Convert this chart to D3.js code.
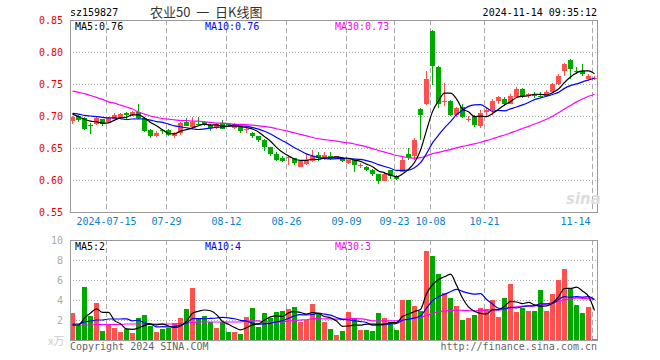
<!DOCTYPE html>
<html>
<head>
<meta charset="utf-8">
<script src="https://cdn.jsdelivr.net/npm/d3@7"></script>
<style>
  body { margin: 0; background: #fff; }
  text { font-family: "DejaVu Sans Mono", monospace; font-size: 10px; }
</style>
</head>
<body>
<div id="chart"></div>
<script>
// trading days shown on the chart (2024-07-05 .. 2024-11-14)
var dates = ["07-05","07-08","07-09","07-10","07-11","07-12","07-15","07-16","07-17","07-18","07-19",
  "07-22","07-23","07-24","07-25","07-26","07-29","07-30","07-31","08-01","08-02",
  "08-05","08-06","08-07","08-08","08-09","08-12","08-13","08-14","08-15","08-16",
  "08-19","08-20","08-21","08-22","08-23","08-26","08-27","08-28","08-29","08-30",
  "09-02","09-03","09-04","09-05","09-06","09-09","09-10","09-11","09-12","09-13",
  "09-18","09-19","09-20","09-23","09-24","09-25","09-26","09-27","09-30",
  "10-08","10-09","10-10","10-11","10-14","10-15","10-16","10-17","10-18","10-21",
  "10-22","10-23","10-24","10-25","10-28","10-29","10-30","10-31","11-01",
  "11-04","11-05","11-06","11-07","11-08","11-11","11-12","11-13","11-14"];

var opens = [0.692,0.700,0.697,0.686,0.688,0.695,0.691,0.696,0.697,0.705,0.701,
  0.707,0.697,0.678,0.668,0.678,0.678,0.668,0.674,0.690,0.683,
  0.688,0.690,0.686,0.681,0.689,0.687,0.681,0.683,0.679,0.674,
  0.668,0.663,0.651,0.641,0.634,0.634,0.634,0.621,0.625,0.629,
  0.639,0.633,0.637,0.634,0.635,0.626,0.631,0.623,0.621,0.616,
  0.609,0.599,0.615,0.607,0.613,0.641,0.638,0.711,0.718,
  0.833,0.777,0.722,0.724,0.701,0.714,0.693,0.699,0.684,0.707,
  0.710,0.724,0.727,0.719,0.730,0.742,0.732,0.733,0.731,
  0.732,0.738,0.750,0.770,0.788,0.770,0.770,0.758,0.758];
var highs = [0.700,0.701,0.698,0.689,0.698,0.696,0.698,0.704,0.705,0.706,0.708,
  0.718,0.698,0.679,0.677,0.680,0.679,0.675,0.690,0.697,0.699,
  0.699,0.692,0.687,0.689,0.693,0.689,0.689,0.684,0.684,0.675,
  0.669,0.664,0.652,0.644,0.637,0.637,0.635,0.631,0.640,0.647,
  0.643,0.643,0.643,0.638,0.636,0.632,0.632,0.626,0.622,0.617,
  0.610,0.613,0.616,0.608,0.637,0.650,0.665,0.712,0.771,
  0.835,0.778,0.751,0.725,0.714,0.718,0.700,0.701,0.710,0.712,
  0.726,0.732,0.729,0.734,0.745,0.743,0.736,0.737,0.737,
  0.740,0.752,0.765,0.783,0.789,0.777,0.782,0.765,0.762];
var lows = [0.687,0.691,0.678,0.672,0.686,0.685,0.689,0.695,0.696,0.694,0.700,
  0.696,0.675,0.666,0.667,0.672,0.668,0.665,0.671,0.684,0.682,
  0.684,0.684,0.676,0.679,0.679,0.684,0.680,0.674,0.673,0.665,
  0.660,0.645,0.637,0.629,0.628,0.624,0.624,0.620,0.624,0.628,
  0.630,0.632,0.632,0.633,0.628,0.625,0.613,0.618,0.614,0.607,
  0.594,0.598,0.601,0.600,0.612,0.632,0.632,0.663,0.717,
  0.749,0.712,0.716,0.700,0.699,0.697,0.690,0.683,0.681,0.700,
  0.701,0.719,0.716,0.718,0.729,0.728,0.728,0.728,0.728,
  0.731,0.736,0.749,0.762,0.758,0.765,0.763,0.754,0.756];
var closes = [0.699,0.694,0.680,0.685,0.697,0.688,0.697,0.701,0.703,0.701,0.707,
  0.697,0.677,0.668,0.674,0.676,0.670,0.673,0.689,0.685,0.690,
  0.687,0.686,0.681,0.687,0.680,0.686,0.688,0.676,0.680,0.668,
  0.663,0.652,0.640,0.632,0.629,0.636,0.627,0.630,0.632,0.637,
  0.634,0.639,0.633,0.637,0.630,0.631,0.624,0.624,0.615,0.610,
  0.598,0.609,0.606,0.602,0.632,0.634,0.663,0.701,0.758,
  0.778,0.718,0.724,0.701,0.713,0.699,0.696,0.686,0.705,0.709,
  0.723,0.730,0.719,0.731,0.742,0.732,0.734,0.731,0.730,
  0.737,0.750,0.763,0.782,0.773,0.769,0.765,0.763,0.759];
// volume, 万手
var volumes = [2.73,1.43,5.33,2.37,3.73,0.93,1.47,1.17,0.83,1.13,0.73,
  2.17,2.47,1.43,0.77,1.13,1.20,1.73,2.17,3.07,5.17,
  2.23,2.37,1.77,1.17,1.77,0.77,0.77,0.57,2.27,3.17,
  1.27,2.67,2.17,2.77,2.87,3.07,3.27,1.77,2.00,3.63,
  2.60,1.77,1.07,0.47,0.93,2.83,2.13,1.03,1.03,0.93,
  2.73,2.17,1.83,1.03,3.97,3.97,3.43,2.87,8.93,
  8.43,6.63,4.73,4.23,3.43,1.97,2.17,2.53,3.23,3.13,
  4.03,2.27,4.23,5.63,2.83,3.23,2.93,2.93,5.03,
  2.93,4.63,6.03,7.13,5.07,3.53,2.73,3.33,0.13];

// moving-average values at the left edge, where the window reaches before the first day shown
var ma5Start = [0.703,0.699,0.695,0.692];
var ma10Start = [0.704,0.703,0.701,0.700,0.699,0.698,0.697,0.697,0.696];
var ma30Start = [0.739,0.737,0.735,0.732,0.729,0.726,0.722,0.720,0.717,0.714,
  0.711,0.706,0.703,0.700,0.698,0.696,0.695,0.694,0.693,0.693,
  0.692,0.692,0.691,0.690,0.689,0.689,0.688,0.687,0.687];
var volMa5Start = [1.5,1.5,2.2,2.7];
var volMa10Start = [1.6,1.6,1.8,1.9,2.0,2.0,2.1,2.1,2.1];
var volMa30Start = [1.45,1.45,1.5,1.5,1.55,1.55,1.55,1.55,1.55,1.6,
  1.6,1.6,1.6,1.6,1.6,1.6,1.6,1.6,1.65,1.7,
  1.75,1.8,1.8,1.8,1.8,1.8,1.8,1.8,1.8];

var priceTicks = [0.55,0.60,0.65,0.70,0.75,0.80,0.85];
var volTicks = [2,4,6,8,10];
var dateTicks = ["07-15","07-29","08-12","08-26","09-09","09-23","10-08","10-21","11-14"];
var dateTickLabels = ["2024-07-15","07-29","08-12","08-26","09-09","09-23","10-08","10-21","11-14"];
var priceMaLabels = ["MA5:0.76","MA10:0.76","MA30:0.73"];
var volMaLabels = ["MA5:2","MA10:4","MA30:3"];
var maColors = ["#000","#00f","#f0f"];

var RED = "#ff5050", GREEN = "#00a800";

function movingAvg(values, n, start) {
  return values.map(function(v, i) {
    if (i < n - 1) return start[i];
    return d3.mean(values.slice(i - n + 1, i + 1));
  });
}

var W = 660, H = 360;
var left = 70, right = 597;

var svg = d3.select("#chart").append("svg")
  .attr("width", W).attr("height", H);

var x = d3.scaleBand()
  .domain(d3.range(dates.length))
  .range([69, 69 + 6 * dates.length]);
var y = d3.scaleLinear().domain([0.55, 0.85]).range([212, 20]);
var yv = d3.scaleLinear().domain([0, 10]).range([340, 240]);

var data = dates.map(function(d, i) {
  return {date: d, o: opens[i], h: highs[i], l: lows[i], c: closes[i], v: volumes[i]};
});

// --- titles
svg.append("text").attr("x", 70).attr("y", 16).text("sz159827");
svg.append("text").attr("x", 150).attr("y", 17)
  .style("font-family", "'Noto Sans CJK SC', sans-serif").style("font-size", "13px")
  .style("fill", "#333").text("农业50\u00a0\u00a0一\u00a0\u00a0日K线图");
svg.append("text").attr("x", right).attr("y", 16).attr("text-anchor", "end")
  .text("2024-11-14 09:35:12");

// --- grid lines
function gridX(d) { return x(dates.indexOf(d)) + 1.5; }

var grid = svg.append("g").attr("shape-rendering", "crispEdges");
grid.selectAll(".vgrid1").data(dateTicks).enter().append("line")
  .attr("x1", gridX).attr("x2", gridX).attr("y1", 20).attr("y2", 212)
  .style("stroke", "#aaa").style("stroke-dasharray", "5,3");
grid.selectAll(".vgrid2").data(dateTicks).enter().append("line")
  .attr("x1", gridX).attr("x2", gridX).attr("y1", 240).attr("y2", 340)
  .style("stroke", "#aaa").style("stroke-dasharray", "5,3");
grid.selectAll(".hgrid1").data(priceTicks.slice(1, -1)).enter().append("line")
  .attr("x1", left).attr("x2", right)
  .attr("y1", function(d) { return y(d) + 0.5; }).attr("y2", function(d) { return y(d) + 0.5; })
  .style("stroke", "#aaa").style("stroke-dasharray", "1,2");
grid.selectAll(".hgrid2").data(volTicks.slice(0, -1)).enter().append("line")
  .attr("x1", left).attr("x2", right)
  .attr("y1", function(d) { return yv(d) + 0.5; }).attr("y2", function(d) { return yv(d) + 0.5; })
  .style("stroke", "#aaa").style("stroke-dasharray", "1,2");

// --- axes
var yAxis = svg.append("g").attr("transform", "translate(" + (left - 4) + ",0)")
  .call(d3.axisLeft(y).tickValues(priceTicks).tickSize(0).tickFormat(d3.format(".2f")));
yAxis.select(".domain").remove();
yAxis.selectAll("text").style("fill", "#e00").attr("dy", "0.35em");

var vAxis = svg.append("g").attr("transform", "translate(" + (left - 4) + ",0)")
  .call(d3.axisLeft(yv).tickValues(volTicks).tickSize(0).tickFormat(d3.format("d")));
vAxis.select(".domain").remove();
vAxis.selectAll("text").style("fill", "#aaa").attr("dy", "0.35em");

var xAxis = svg.append("g").attr("transform", "translate(0,213)")
  .call(d3.axisBottom(x).tickValues(dateTicks.map(function(d) { return dates.indexOf(d); }))
    .tickSize(0).tickFormat(function(i) { return dateTickLabels[dateTicks.indexOf(dates[i])]; }));
xAxis.select(".domain").remove();
xAxis.selectAll(".tick").attr("transform", function(i) { return "translate(" + gridX(dates[i]) + ",0)"; });
xAxis.selectAll("text").style("fill", "#0a80d0").attr("y", 5);
// the last label would run past the frame, so it ends at the grid line instead
xAxis.selectAll("text").filter(function(i) { return i === dates.length - 1; })
  .attr("text-anchor", "end").attr("x", -2);

svg.append("text").attr("x", 48).attr("y", 345).style("fill", "#ccc")
  .style("font-family", "'Noto Sans CJK SC', sans-serif").style("font-size", "11px").text("x万");

// --- candles
var candles = svg.append("g").attr("shape-rendering", "crispEdges");
function col(d) { return d.c >= d.o ? RED : GREEN; }
candles.selectAll(".wick").data(data).enter().append("line")
  .attr("x1", function(d, i) { return x(i) + 3.5; })
  .attr("x2", function(d, i) { return x(i) + 3.5; })
  .attr("y1", function(d) { return y(d.h); })
  .attr("y2", function(d) { return y(d.l); })
  .style("stroke", col);
candles.selectAll(".body").data(data).enter().append("rect")
  .attr("x", function(d, i) { return x(i) + 1; })
  .attr("width", 5)
  .attr("y", function(d) { return y(Math.max(d.o, d.c)); })
  .attr("height", function(d) { return Math.max(1, Math.abs(y(d.o) - y(d.c))); })
  .style("fill", col);

// --- volume bars
svg.append("g").attr("shape-rendering", "crispEdges")
  .selectAll("rect").data(data).enter().append("rect")
  .attr("x", function(d, i) { return x(i) + 1; })
  .attr("width", 5)
  .attr("y", function(d) { return yv(d.v); })
  .attr("height", function(d) { return yv(0) - yv(d.v); })
  .style("fill", col);

// --- moving averages
var priceMas = [movingAvg(closes, 5, ma5Start), movingAvg(closes, 10, ma10Start), movingAvg(closes, 30, ma30Start)];
var volMas = [movingAvg(volumes, 5, volMa5Start), movingAvg(volumes, 10, volMa10Start), movingAvg(volumes, 30, volMa30Start)];

var maLine = d3.line().x(function(d, i) { return x(i) + 3.5; }).y(function(d) { return y(d); }).curve(d3.curveMonotoneX);
var volLine = d3.line().x(function(d, i) { return x(i) + 3.5; }).y(function(d) { return yv(d); }).curve(d3.curveMonotoneX);

[2, 1, 0].forEach(function(k) {
  svg.append("path").datum(priceMas[k]).attr("d", maLine)
    .style("fill", "none").style("stroke", maColors[k]).style("stroke-width", 1.2);
  svg.append("path").datum(volMas[k]).attr("d", volLine)
    .style("fill", "none").style("stroke", maColors[k]).style("stroke-width", 1.2);
});

// --- frames
svg.append("rect").attr("x", left + 0.5).attr("y", 20.5).attr("width", right - left).attr("height", 192)
  .style("fill", "none").style("stroke", "#999").attr("shape-rendering", "crispEdges");
svg.append("rect").attr("x", left + 0.5).attr("y", 240.5).attr("width", right - left).attr("height", 100)
  .style("fill", "none").style("stroke", "#999").attr("shape-rendering", "crispEdges");

// --- MA labels
var labelX = [75, 205, 335];
priceMaLabels.forEach(function(t, k) {
  svg.append("text").attr("x", labelX[k]).attr("y", 30).style("fill", maColors[k]).text(t);
});
volMaLabels.forEach(function(t, k) {
  svg.append("text").attr("x", labelX[k]).attr("y", 250).style("fill", maColors[k]).text(t);
});

// --- watermark and footer
svg.append("text").attr("x", 566).attr("y", 204)
  .style("font-family", "'DejaVu Sans', sans-serif").style("font-size", "15px")
  .style("font-style", "italic").style("font-weight", "bold").style("fill", "#ddd").text("sina");
svg.append("text").attr("x", 70).attr("y", 350).style("fill", "#666").text("Copyright 2024 SINA.COM");
svg.append("text").attr("x", right).attr("y", 350).attr("text-anchor", "end").style("fill", "#666")
  .text("http://finance.sina.com.cn");
</script>
</body>
</html>
